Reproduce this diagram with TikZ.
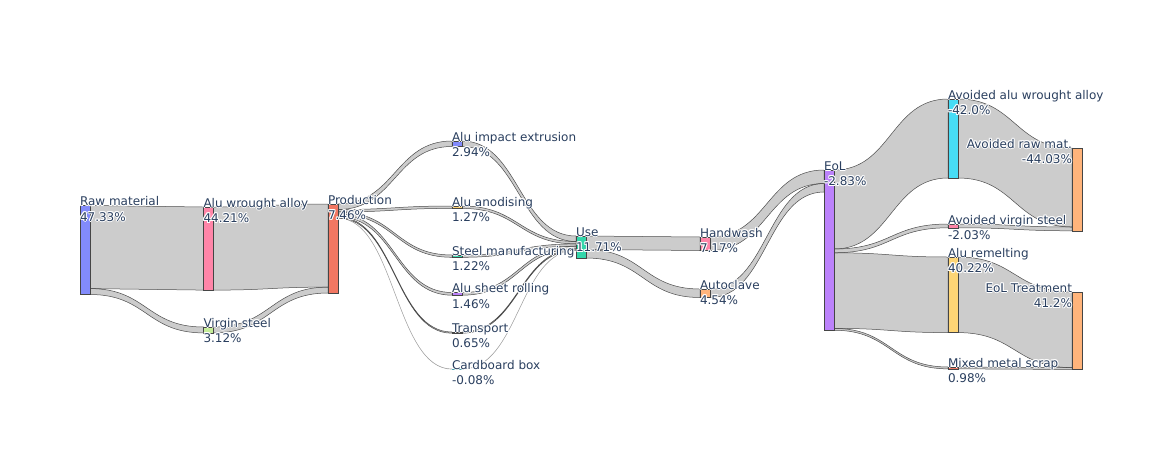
\documentclass[tikz,border=0pt]{standalone}
\usepackage{fontspec}
\setmainfont{DejaVu Sans}
\usetikzlibrary{calc}
\definecolor{cblue}{HTML}{636EFA}
\definecolor{cred}{HTML}{EF553B}
\definecolor{cgreen}{HTML}{00CC96}
\definecolor{cpurple}{HTML}{AB63FA}
\definecolor{corange}{HTML}{FFA15A}
\definecolor{ccyan}{HTML}{19D3F3}
\definecolor{cpink}{HTML}{FF6692}
\definecolor{clgreen}{HTML}{B6E880}
\definecolor{cyellow}{HTML}{FECB52}
\definecolor{txt}{HTML}{2A3F5F}
\pgfdeclarelayer{bg}
\pgfsetlayers{bg,main}
\newcommand\hlc[3]{\rlap{\kern#1\raise#2\hbox{\color{white}#3}}}
\newcommand\hl[1]{\hlc{.8pt}{.8pt}{#1}\hlc{-.8pt}{.8pt}{#1}\hlc{.8pt}{-.8pt}{#1}\hlc{-.8pt}{-.8pt}{#1}\hlc{1pt}{0pt}{#1}\hlc{-1pt}{0pt}{#1}\hlc{0pt}{1pt}{#1}\hlc{0pt}{-1pt}{#1}#1}
\newcommand\tlab[2]{\begin{tabular}[t]{@{}l@{}}\hl{#1}\\\hl{#2}\end{tabular}}
\newcommand\trab[2]{\begin{tabular}[t]{@{}r@{}}\hl{#1}\\\hl{#2}\end{tabular}}
\newcommand\slink[6][]{\filldraw[link,#1] let \p1=($(#2.north east)+(0,#3)$), \p2=($(#4.north west)+(0,#5)$), \p3=($(#2.north east)+(0,#3+#6)$), \p4=($(#4.north west)+(0,#5+#6)$), \n1={0.5*(\x1+\x2)} in (\p1) .. controls (\n1,\y1) and (\n1,\y2) .. (\p2) -- (\p4) .. controls (\n1,\y4) and (\n1,\y3) .. (\p3) -- cycle;}
\begin{document}
\begin{tikzpicture}[x=1pt,y=-1pt,
 snode/.style={draw=black!73, line width=0.5pt, minimum width=10pt, inner sep=0pt, outer sep=0pt, anchor=north west},
 link/.style={fill=black, fill opacity=0.2, draw=black!70, line width=0.5pt},
 faint/.style={draw opacity=0.45},
 lbl/.style={inner sep=0pt, outer sep=0pt, text=txt, font=\fontsize{12}{15.6}\selectfont, anchor=base west},
 rlbl/.style={lbl, anchor=base east}]
\useasboundingbox (0,0) rectangle (1162,450);
% nodes
\node[snode, fill=cblue!80!white, minimum height=89pt] (raw) at (80,205.5) {};
\node[snode, fill=cpink!80!white, minimum height=83.1pt] (alu) at (203.5,207) {};
\node[snode, fill=clgreen!80!white, minimum height=5.9pt] (vir) at (203.5,327) {};
\node[snode, fill=cred!80!white, minimum height=89pt] (prod) at (328,204) {};
\node[snode, fill=cblue!80!white, minimum height=5.5pt] (ext) at (452,141) {};
\node[snode, fill=cyellow!80!white, minimum height=2.4pt] (ano) at (452,206) {};
\node[snode, fill=cgreen!80!white, minimum height=2.3pt] (stl) at (452,255) {};
\node[snode, fill=cpurple!80!white, minimum height=2.7pt] (sht) at (452,292.5) {};
\node[snode, fill=corange!80!white, minimum height=1.2pt] (trn) at (452,332) {};
\node[snode, fill=ccyan!80!white, minimum height=0.15pt, draw opacity=0.4] (card) at (452,369) {};
\node[snode, fill=cgreen!80!white, minimum height=22pt] (use) at (576,236) {};
\node[snode, fill=cpink!80!white, minimum height=13.5pt] (hw) at (700,237) {};
\node[snode, fill=corange!80!white, minimum height=8.5pt] (ac) at (700,289) {};
\node[snode, fill=cpurple!80!white, minimum height=160.2pt] (eol) at (824,170) {};
\node[snode, fill=ccyan!80!white, minimum height=79pt] (aaw) at (948,99) {};
\node[snode, fill=cpink!80!white, minimum height=3.8pt] (avs) at (948,224) {};
\node[snode, fill=cyellow!80!white, minimum height=75.6pt] (rem) at (948,257) {};
\node[snode, fill=cred!80!white, minimum height=1.85pt] (mms) at (948,367) {};
\node[snode, fill=corange!80!white, minimum height=82.8pt] (arm) at (1072,148) {};
\node[snode, fill=corange!80!white, minimum height=77.5pt] (eolt) at (1072,292) {};
% links
\begin{pgfonlayer}{bg}
\slink{raw}{0}{alu}{0}{83.1}
\slink{raw}{83.1}{vir}{0}{5.9}
\slink{alu}{0}{prod}{0}{83.1}
\slink{vir}{0}{prod}{83.1}{5.9}
\slink{prod}{0}{ext}{0}{5.5}
\slink{prod}{5.5}{ano}{0}{2.4}
\slink{prod}{7.9}{stl}{0}{2.3}
\slink{prod}{10.2}{sht}{0}{2.7}
\slink{prod}{12.9}{trn}{0}{1.2}
\slink[faint]{prod}{14.1}{card}{0}{0.15}
\slink{ext}{0}{use}{0}{5.5}
\slink{ano}{0}{use}{5.5}{2.4}
\slink{stl}{0}{use}{7.9}{2.3}
\slink{sht}{0}{use}{10.2}{2.7}
\slink{trn}{0}{use}{12.9}{1.2}
\slink[faint]{card}{0}{use}{14.1}{0.15}
\slink{use}{0}{hw}{0}{13.5}
\slink{use}{13.5}{ac}{0}{8.5}
\slink{hw}{0}{eol}{0}{13.5}
\slink{ac}{0}{eol}{13.5}{8.5}
\slink{eol}{0}{aaw}{0}{79}
\slink{eol}{79}{avs}{0}{3.8}
\slink{eol}{82.8}{rem}{0}{75.6}
\slink{eol}{158.4}{mms}{0}{1.85}
\slink{aaw}{0}{arm}{0}{79}
\slink{avs}{0}{arm}{79}{3.8}
\slink{rem}{0}{eolt}{0}{75.6}
\slink{mms}{0}{eolt}{75.6}{1.85}
\end{pgfonlayer}
% labels
\node[lbl] (l-raw) at (raw.north west) {\tlab{Raw material}{47.33\%}};
\node[lbl] (l-alu) at (alu.north west) {\tlab{Alu wrought alloy}{44.21\%}};
\node[lbl] (l-vir) at (vir.north west) {\tlab{Virgin steel}{3.12\%}};
\node[lbl] (l-prod) at (prod.north west) {\tlab{Production}{7.46\%}};
\node[lbl] (l-ext) at (ext.north west) {\tlab{Alu impact extrusion}{2.94\%}};
\node[lbl] (l-ano) at (ano.north west) {\tlab{Alu anodising}{1.27\%}};
\node[lbl] (l-stl) at (stl.north west) {\tlab{Steel manufacturing}{1.22\%}};
\node[lbl] (l-sht) at (sht.north west) {\tlab{Alu sheet rolling}{1.46\%}};
\node[lbl] (l-trn) at (trn.north west) {\tlab{Transport}{0.65\%}};
\node[lbl] (l-card) at (card.north west) {\tlab{Cardboard box}{-0.08\%}};
\node[lbl] (l-use) at (use.north west) {\tlab{Use}{11.71\%}};
\node[lbl] (l-hw) at (hw.north west) {\tlab{Handwash}{7.17\%}};
\node[lbl] (l-ac) at (ac.north west) {\tlab{Autoclave}{4.54\%}};
\node[lbl] (l-eol) at (eol.north west) {\tlab{EoL}{-2.83\%}};
\node[lbl] (l-aaw) at (aaw.north west) {\tlab{Avoided alu wrought alloy}{-42.0\%}};
\node[lbl] (l-avs) at (avs.north west) {\tlab{Avoided virgin steel}{-2.03\%}};
\node[lbl] (l-rem) at (rem.north west) {\tlab{Alu remelting}{40.22\%}};
\node[lbl] (l-mms) at (mms.north west) {\tlab{Mixed metal scrap}{0.98\%}};
\node[rlbl] (l-arm) at (arm.north west) {\trab{Avoided raw mat.}{-44.03\%}};
\node[rlbl] (l-eolt) at (eolt.north west) {\trab{EoL Treatment}{41.2\%}};
\end{tikzpicture}
\end{document}
